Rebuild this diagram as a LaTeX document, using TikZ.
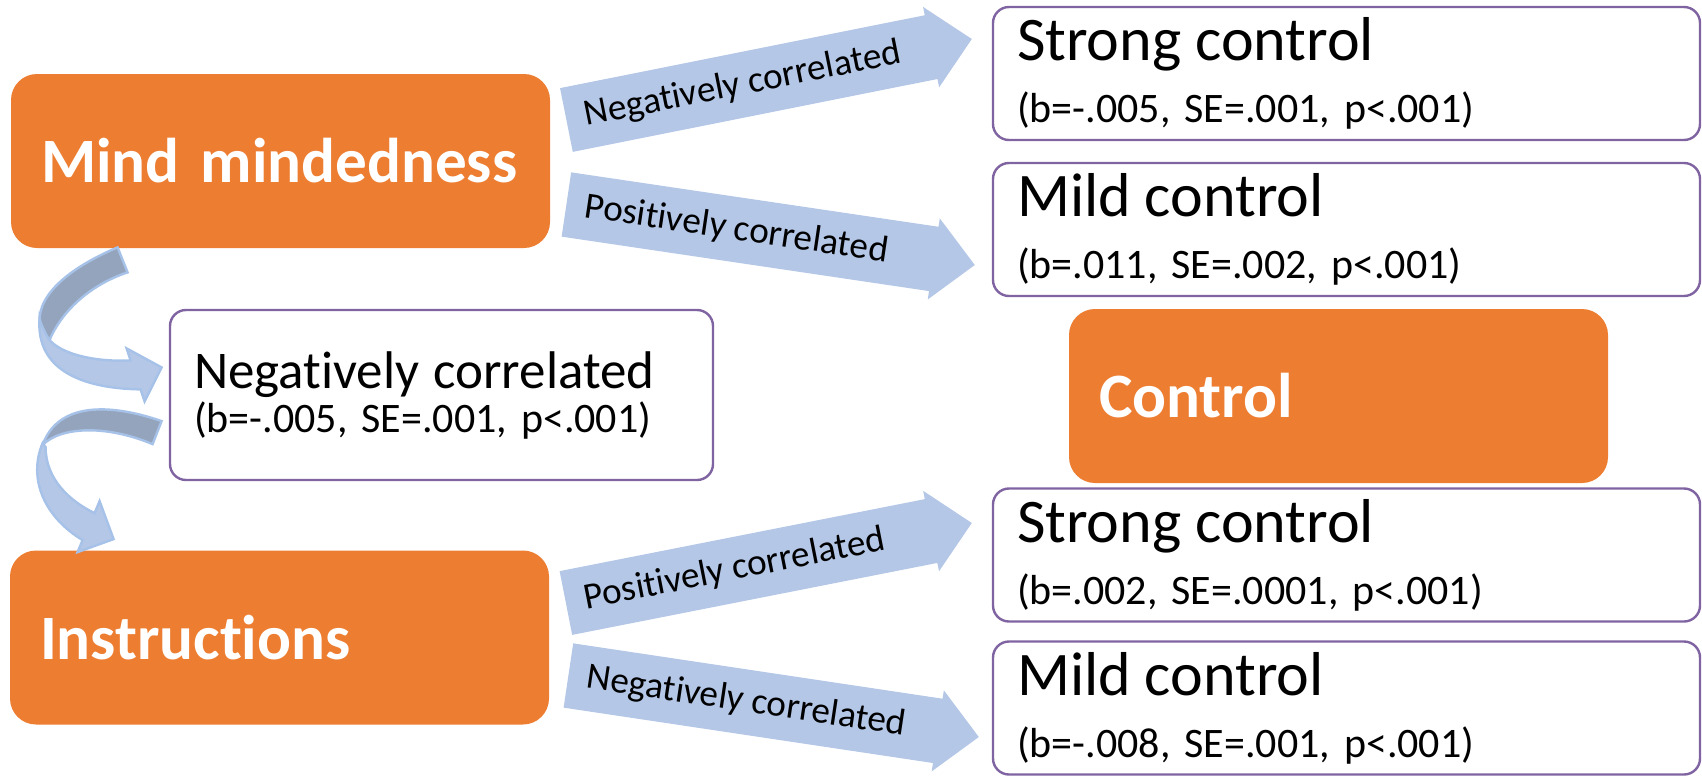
\documentclass[tikz,border=0pt]{standalone}
\usepackage{fontspec}
\setmainfont{Carlito}[Ligatures={NoCommon}]
\usepackage{tikz}
\usetikzlibrary{calc}
\frenchspacing

\definecolor{boxorange}{HTML}{ED7D31}
\definecolor{boxpurple}{HTML}{8064A2}
\definecolor{flowblue}{HTML}{B4C7E7}
\definecolor{flowshade}{HTML}{94A4BC}
\definecolor{flowedge}{HTML}{A7C2E8}

\begin{document}
\begin{tikzpicture}[x=0.5pt, y=-0.5pt,
  factor/.style={fill=boxorange, rounded corners=13pt, text=white,
    minimum width=269.5pt, minimum height=87pt, inner xsep=15pt,
    text width=239.5pt, align=left,
    font=\fontsize{31.6}{38}\selectfont\bfseries},
  result/.style={draw=boxpurple, line width=1.2pt, fill=white,
    rounded corners=8pt, minimum width=353.5pt, minimum height=66.5pt,
    inner xsep=12pt, text width=329.5pt, align=left,
    font=\fontsize{21}{31}\selectfont},
  flow/.style={fill=flowblue},
  flowlabel/.style={font=\fontsize{18.6}{20}\selectfont, inner sep=0pt},
  curlarrow/.style={draw=flowedge, line width=1.2pt}]

\useasboundingbox (0,0) rectangle (1702,776);

% orange factors
\node[factor] (mind) at (280.5,161) {\mbox{Mind mindedness}};
\node[factor] (instr) at (279.5,637.5) {Instructions};
\node[factor] (control) at (1338.5,396) {Control};

% result boxes
\foreach \nm/\yy/\head/\stats in {
  strong1/73.5/Strong control/{(b=-.005, SE=.001, p<.001)},
  mild1/229.5/Mild control/{(b=.011, SE=.002, p<.001)},
  strong2/555/Strong control/{(b=.002, SE=.0001, p<.001)},
  mild2/708/Mild control/{(b=-.008, SE=.001, p<.001)}
}{
  \node[result] (\nm) at (1346.5,\yy) {{\fontsize{31}{31}\selectfont\head}\\\stats};
}

\node[result, minimum width=271.5pt, minimum height=85pt, inner xsep=12pt,
      text width=247.5pt, font=\fontsize{21}{22}\selectfont] (neg) at (441.5,395)
  {{\fontsize{26.5}{22}\selectfont Negatively correlated}\\(b=-.005, SE=.001, p<.001)};

% block arrows
\coordinate (a1t) at ($(mind.east)+(16,-41)$);
\coordinate (a1h) at ($(strong1.west)+(-20,-34.5)$);
\coordinate (a2t) at ($(mind.east)+(16,43.5)$);
\coordinate (a2h) at ($(mild1.west)+(-17,35.5)$);
\coordinate (a3t) at ($(instr.east)+(16.5,-34.5)$);
\coordinate (a3h) at ($(strong2.west)+(-20,-32)$);
\coordinate (a4t) at ($(instr.east)+(19,38)$);
\coordinate (a4h) at ($(mild2.west)+(-13,29)$);

\foreach \t/\h/\lab in {
  a1t/a1h/Negatively correlated,
  a2t/a2h/Positively correlated,
  a3t/a3h/Positively correlated,
  a4t/a4h/Negatively correlated
}{
  \fill[flow] ($(\t)!16.25pt!90:(\h)$) -- ($(\h)!26.36pt!-38.07:(\t)$)
    -- ($(\h)!29.17pt!-44.65:(\t)$) -- (\h) -- ($(\h)!29.17pt!44.65:(\t)$)
    -- ($(\h)!26.36pt!38.07:(\t)$) -- ($(\t)!16.25pt!-90:(\h)$) -- cycle;
  \path (\t) -- ($(\h)!20.75pt!(\t)$)
    node[flowlabel, pos=0.05, anchor=west, sloped] {\lab};
}

% curved arrows
\begin{scope}[shift={(mind.south west)}]
  \filldraw[curlarrow, fill=flowshade] (107,-1) .. controls (64,17) and (27,44) .. (29,74)
    .. controls (30,85) and (33,92) .. (37,97)
    .. controls (47,67) and (77,37) .. (117,24) -- cycle;
  \filldraw[curlarrow, fill=flowblue] (29,70) .. controls (25,120) and (69,140) .. (130,141)
    -- (134,153) -- (151,119) -- (116,100) -- (120,112)
    .. controls (81,114) and (44,104) .. (36,87)
    .. controls (32,79) and (30,75) .. (29,70) -- cycle;
\end{scope}
\begin{scope}[shift={(instr.north west)}]
  \filldraw[curlarrow, fill=flowshade] (152,-129) .. controls (100,-147) and (48,-148) .. (33,-105)
    .. controls (50,-123) and (95,-126) .. (143,-106) -- cycle;
  \filldraw[curlarrow, fill=flowblue] (33,-107) .. controls (18,-71) and (35,-33) .. (73,-10)
    -- (68,2) -- (104,-11) -- (90,-49) -- (85,-37)
    .. controls (60,-49) and (36,-71) .. (36,-103) -- cycle;
\end{scope}

\end{tikzpicture}
\end{document}
